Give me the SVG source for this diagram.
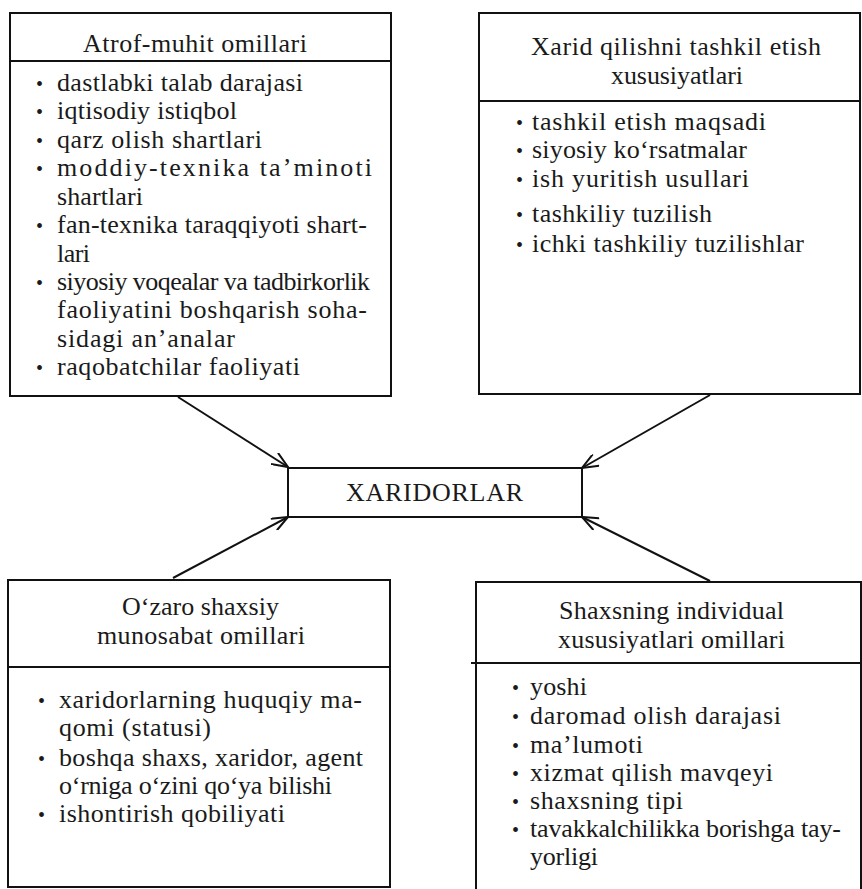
<svg xmlns="http://www.w3.org/2000/svg" width="862" height="889" viewBox="0 0 862 889">
<style>
.box{fill:none;stroke:#111;stroke-width:2}
.t{font-family:"Liberation Serif","Times New Roman",serif;font-size:26px;fill:#1a1a1a}
.b{font-family:"Liberation Serif","Times New Roman",serif;font-size:20px;fill:#1a1a1a}
.c{font-family:"Liberation Serif","Times New Roman",serif;font-size:26px;fill:#1a1a1a}
.conn{stroke:#111;stroke-width:2;fill:none;marker-end:url(#ah)}
</style>
<defs>
<marker id="ah" viewBox="0 0 18 14" refX="17" refY="7" markerWidth="18" markerHeight="14" markerUnits="userSpaceOnUse" orient="auto">
<path d="M1,0.5 L17,7 L1,13.5" fill="none" stroke="#111" stroke-width="2"/>
</marker>
</defs>
<rect width="862" height="889" fill="#fff"/>

<g id="atrof">
<rect class="box" x="10" y="13" width="381" height="383"/>
<line class="box" x1="10" y1="61" x2="391" y2="61"/>
<text class="t" x="83" y="52" textLength="224" lengthAdjust="spacing">Atrof-muhit omillari</text>
<text class="b" x="36" y="91">•</text><text class="t" x="57" y="91" textLength="246" lengthAdjust="spacing">dastlabki talab darajasi</text>
<text class="b" x="36" y="119">•</text><text class="t" x="57" y="119" textLength="180" lengthAdjust="spacing">iqtisodiy istiqbol</text>
<text class="b" x="36" y="148">•</text><text class="t" x="57" y="148" textLength="205" lengthAdjust="spacing">qarz olish shartlari</text>
<text class="b" x="36" y="176">•</text><text class="t" x="57" y="176" textLength="315" lengthAdjust="spacing">moddiy-texnika ta’minoti</text>
<text class="t" x="57" y="205" textLength="86" lengthAdjust="spacing">shartlari</text>
<text class="b" x="36" y="233">•</text><text class="t" x="57" y="233" textLength="310" lengthAdjust="spacing">fan-texnika taraqqiyoti shart-</text>
<text class="t" x="57" y="262" textLength="33" lengthAdjust="spacing">lari</text>
<text class="b" x="36" y="290">•</text><text class="t" x="57" y="290" textLength="313" lengthAdjust="spacing">siyosiy voqealar va tadbirkorlik</text>
<text class="t" x="57" y="318" textLength="310" lengthAdjust="spacing">faoliyatini boshqarish soha-</text>
<text class="t" x="57" y="347" textLength="178" lengthAdjust="spacing">sidagi an’analar</text>
<text class="b" x="36" y="375">•</text><text class="t" x="57" y="375" textLength="243" lengthAdjust="spacing">raqobatchilar faoliyati</text>
</g>

<g id="xarid">
<rect class="box" x="479" y="13" width="381" height="381"/>
<line class="box" x1="479" y1="101" x2="860" y2="101"/>
<text class="t" x="531" y="55" textLength="290" lengthAdjust="spacing">Xarid qilishni tashkil etish</text>
<text class="t" x="611" y="84" textLength="132" lengthAdjust="spacing">xususiyatlari</text>
<text class="b" x="516" y="130">•</text><text class="t" x="532" y="130" textLength="234" lengthAdjust="spacing">tashkil etish maqsadi</text>
<text class="b" x="516" y="158">•</text><text class="t" x="532" y="158" textLength="215" lengthAdjust="spacing">siyosiy ko‘rsatmalar</text>
<text class="b" x="516" y="187">•</text><text class="t" x="532" y="187" textLength="217" lengthAdjust="spacing">ish yuritish usullari</text>
<text class="b" x="516" y="222">•</text><text class="t" x="532" y="222" textLength="180" lengthAdjust="spacing">tashkiliy tuzilish</text>
<text class="b" x="516" y="252">•</text><text class="t" x="532" y="252" textLength="272" lengthAdjust="spacing">ichki tashkiliy tuzilishlar</text>
</g>

<g id="xaridorlar">
<rect class="box" x="288" y="468" width="294" height="49"/>
<text class="c" x="346" y="501" textLength="177" lengthAdjust="spacing">XARIDORLAR</text>
</g>

<g id="ozaro">
<rect class="box" x="8" y="580" width="382" height="307"/>
<line class="box" x1="8" y1="667" x2="390" y2="667"/>
<text class="t" x="122" y="615" textLength="157" lengthAdjust="spacing">O‘zaro shaxsiy</text>
<text class="t" x="97" y="644" textLength="208" lengthAdjust="spacing">munosabat omillari</text>
<text class="b" x="38" y="708">•</text><text class="t" x="59" y="708" textLength="303" lengthAdjust="spacing">xaridorlarning huquqiy ma-</text>
<text class="t" x="59" y="736" textLength="152" lengthAdjust="spacing">qomi (statusi)</text>
<text class="b" x="38" y="766">•</text><text class="t" x="59" y="766" textLength="304" lengthAdjust="spacing">boshqa shaxs, xaridor, agent</text>
<text class="t" x="59" y="794" textLength="273" lengthAdjust="spacing">o‘rniga o‘zini qo‘ya bilishi</text>
<text class="b" x="38" y="822">•</text><text class="t" x="59" y="822" textLength="226" lengthAdjust="spacing">ishontirish qobiliyati</text>
</g>

<g id="shaxsning">
<path class="box" d="M476,895 V582 H861 V895"/>
<line class="box" x1="471" y1="663" x2="861" y2="663"/>
<text class="t" x="559" y="619" textLength="225" lengthAdjust="spacing">Shaxsning individual</text>
<text class="t" x="558" y="648" textLength="227" lengthAdjust="spacing">xususiyatlari omillari</text>
<text class="b" x="512" y="695">•</text><text class="t" x="530" y="695" textLength="57" lengthAdjust="spacing">yoshi</text>
<text class="b" x="512" y="724">•</text><text class="t" x="530" y="724" textLength="251" lengthAdjust="spacing">daromad olish darajasi</text>
<text class="b" x="512" y="753">•</text><text class="t" x="530" y="753" textLength="113" lengthAdjust="spacing">ma’lumoti</text>
<text class="b" x="512" y="781">•</text><text class="t" x="530" y="781" textLength="243" lengthAdjust="spacing">xizmat qilish mavqeyi</text>
<text class="b" x="512" y="809">•</text><text class="t" x="530" y="809" textLength="153" lengthAdjust="spacing">shaxsning tipi</text>
<text class="b" x="512" y="837">•</text><text class="t" x="530" y="837" textLength="311" lengthAdjust="spacing">tavakkalchilikka borishga tay-</text>
<text class="t" x="530" y="865" textLength="68" lengthAdjust="spacing">yorligi</text>
</g>

<g id="connectors">
<line class="conn" x1="178" y1="397" x2="288" y2="467"/>
<line class="conn" x1="710" y1="395" x2="582" y2="468"/>
<line class="conn" x1="173" y1="578" x2="288" y2="517"/>
<line class="conn" x1="710" y1="581" x2="582" y2="517"/>
</g>
</svg>
